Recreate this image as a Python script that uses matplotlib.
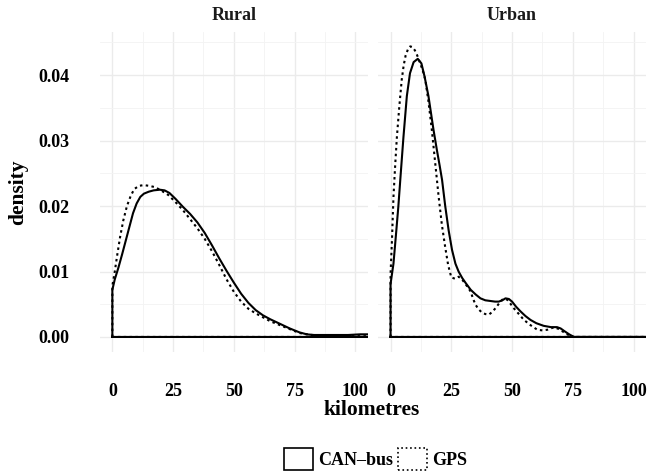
import matplotlib
matplotlib.use('Agg')
import matplotlib.pyplot as plt
from matplotlib.patches import Patch
import numpy as np

plt.rcParams['font.family'] = ['Liberation Serif', 'DejaVu Serif']
plt.rcParams['font.weight'] = 'bold'

panels = ['Rural', 'Urban']
series = ['CAN–bus', 'GPS']

# density curves (km, density)
rural_can_x = [0, 1, 2.5, 4, 5.5, 7, 8.5, 10, 11.5, 13, 15, 17, 19.5, 21.5, 23.5, 26, 29, 32, 35, 38,
               41, 44, 47, 50, 53, 56, 59, 62, 65, 69, 73, 77, 80, 83, 87, 92, 97, 102, 106]
rural_can_y = [0.0072, 0.0088, 0.0106, 0.0126, 0.0147, 0.0168, 0.0189, 0.0204, 0.0214, 0.0219, 0.0222,
               0.0224, 0.0225, 0.0224, 0.0220, 0.0211, 0.0199, 0.0188, 0.0175, 0.0159, 0.0140, 0.0120,
               0.0101, 0.0083, 0.0066, 0.0052, 0.0041, 0.0033, 0.0027, 0.0020, 0.0013, 0.0007, 0.0004,
               0.0003, 0.0003, 0.0003, 0.0003, 0.0004, 0.0004]
rural_gps_x = [0, 1, 2, 3.2, 4.5, 6, 7.5, 9, 11, 13, 15, 17.5, 20, 23, 26, 29, 32, 35, 38, 41, 44, 47,
               50, 53, 56, 59, 62, 65, 69, 73, 77, 82, 87, 92, 97, 102, 106]
rural_gps_y = [0.0078, 0.0100, 0.0125, 0.0153, 0.0178, 0.0200, 0.0215, 0.0226, 0.0231, 0.0232, 0.0231,
               0.0229, 0.0224, 0.0217, 0.0206, 0.0194, 0.0180, 0.0166, 0.0150, 0.0131, 0.0110, 0.0088,
               0.0069, 0.0054, 0.0043, 0.0036, 0.0030, 0.0024, 0.0018, 0.0012, 0.0006, 0.0003, 0.0002,
               0.0001, 0.0001, 0.0001, 0.0001]
urban_can_x = [0, 1.2, 2.2, 3.2, 4.2, 5.3, 6.7, 8, 9.5, 11.2, 12.7, 14, 15.6, 17.7, 19.1, 20.2, 21.2,
               22.5, 23.9, 25.3, 26.7, 28, 29.5, 31, 33, 35, 37, 39, 41, 43, 44.5, 46, 47.3, 48.7, 50,
               51.7, 53.5, 55.5, 57.6, 60, 63, 66, 68.5, 70, 71.5, 73.5, 75.5, 80, 90, 100, 106]
urban_can_y = [0.0081, 0.0112, 0.0155, 0.0199, 0.0250, 0.0305, 0.0368, 0.0403, 0.0420, 0.0425, 0.0418,
               0.0398, 0.0368, 0.0316, 0.0285, 0.0262, 0.0240, 0.0200, 0.0163, 0.0133, 0.0112, 0.0100,
               0.0090, 0.0082, 0.0072, 0.0065, 0.0059, 0.0056, 0.0055, 0.0054, 0.0054, 0.0056, 0.0059,
               0.0058, 0.0054, 0.0046, 0.0039, 0.0032, 0.0026, 0.0021, 0.0017, 0.0015, 0.0015, 0.0013,
               0.0009, 0.0004, 0.0, 0.0, 0.0, 0.0, 0.0]
urban_gps_x = [0, 0.6, 1.2, 1.9, 2.6, 3.6, 4.6, 5.4, 6.2, 7.2, 8.1, 9, 10, 11, 12, 13.2, 14.3, 15.6, 17,
               18.4, 19.8, 21.1, 22.5, 23.7, 25, 26.5, 28, 29.4, 30.8, 32, 33, 34, 35, 36.3, 37.7, 39,
               40.4, 41.8, 43.2, 44.6, 46, 47, 48, 49.3, 50.7, 52.8, 54.9, 57.6, 60.4, 62.5, 64.5, 66,
               67.3, 69.3, 71.4, 73.2, 75, 80, 90, 100, 106]
urban_gps_y = [0.0096, 0.0150, 0.0214, 0.0262, 0.0305, 0.0352, 0.0393, 0.0415, 0.0430, 0.0440, 0.0444,
               0.0443, 0.0438, 0.0430, 0.0420, 0.0408, 0.0393, 0.0360, 0.0316, 0.0265, 0.0214, 0.0172,
               0.0137, 0.0110, 0.0091, 0.0089, 0.0092, 0.0088, 0.0081, 0.0075, 0.0069, 0.0058, 0.0049,
               0.0042, 0.0037, 0.0035, 0.0034, 0.0038, 0.0044, 0.0051, 0.0057, 0.0058, 0.0057, 0.0051,
               0.0044, 0.0035, 0.0026, 0.0018, 0.0011, 0.0010, 0.0011, 0.0013, 0.0015, 0.0012, 0.0007,
               0.0003, 0.0, 0.0, 0.0, 0.0, 0.0]

data = {
    'Rural': [(rural_can_x, rural_can_y), (rural_gps_x, rural_gps_y)],
    'Urban': [(urban_can_x, urban_can_y), (urban_gps_x, urban_gps_y)],
}
styles = ['-', (0, (1.2, 1.6))]

x_ticks = [0, 25, 50, 75, 100]
y_ticks = [0.00, 0.01, 0.02, 0.03, 0.04]

W, H = 654, 476
fig = plt.figure(figsize=(W / 100, H / 100), dpi=100)
lefts = [100.2, 378.4]
pw, ph = 267.3, 320
top = 32

for i, name in enumerate(panels):
    ax = fig.add_axes([lefts[i] / W, (H - top - ph) / H, pw / W, ph / H])
    ax.set_xlim(-5, 105)
    ax.set_ylim(-0.0023, 0.0466)
    ax.set_xticks(x_ticks)
    ax.set_xticks([12.5, 37.5, 62.5, 87.5], minor=True)
    ax.set_yticks(y_ticks)
    ax.set_yticks([0.005, 0.015, 0.025, 0.035, 0.045], minor=True)
    ax.grid(True, which='major', color='#EBEBEB', lw=1.0)
    ax.grid(True, which='minor', color='#F3F3F3', lw=0.6)
    ax.set_axisbelow(True)
    for s in ax.spines.values():
        s.set_visible(False)
    ax.tick_params(which='both', length=0, labelsize=13, pad=22, colors='black')
    if i == 0:
        ax.set_yticklabels(['%.2f' % v for v in y_ticks])
    else:
        ax.set_yticklabels([])
    ax.set_xticklabels([str(v) for v in x_ticks])
    for (xs, ys), ls in zip(data[name], styles):
        xp = [xs[0]] + list(xs) + [xs[-1], xs[0]]
        yp = [0] + list(ys) + [0, 0]
        ax.plot(xp, yp, color='black', lw=1.5, ls=ls, solid_joinstyle='round')
    ax.set_title(name, fontsize=13, fontweight='bold', color='#1a1a1a', pad=9)

fig.text(372 / W, 1 - 410 / H, 'kilometres', ha='center', va='center', fontsize=15.5, fontweight='bold')
fig.text(18 / W, 1 - 192 / H, 'density', ha='center', va='center', rotation=90, fontsize=15.5,
         fontweight='bold')

handles = [Patch(facecolor='white', edgecolor='black', lw=1.2, ls=ls) for ls in ['-', ':']]
fig.legend(handles, series, loc='center', bbox_to_anchor=(375.5 / W, 1 - 459 / H), ncol=2,
           frameon=False, fontsize=13, handlelength=1.6, handleheight=1.5, handletextpad=0.3,
           columnspacing=0.25, borderpad=0)

fig.savefig('out.png', dpi=100)
